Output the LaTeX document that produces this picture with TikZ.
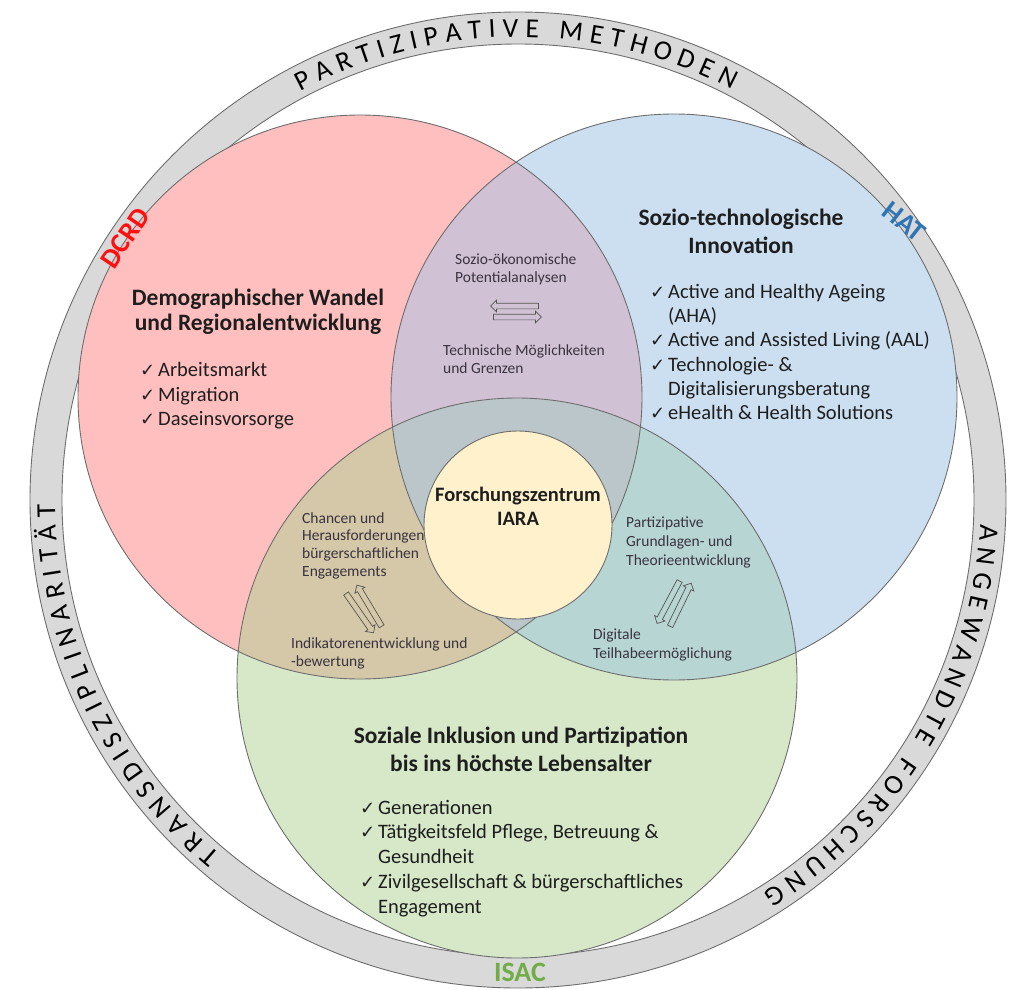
\documentclass[tikz,border=0pt]{standalone}
\usepackage{fontspec}
\setmainfont{Carlito}
\newfontfamily\chkfont{DejaVu Sans}
\usetikzlibrary{decorations.text,shapes.arrows}

\definecolor{ringgray}{HTML}{D9D9D9}
\definecolor{linegray}{HTML}{6E6E6E}
\definecolor{redfill}{HTML}{FFBFBF}
\definecolor{bluefill}{HTML}{CCDFF1}
\definecolor{greenfill}{HTML}{D6E8C8}
\definecolor{rbfill}{HTML}{D1C1D4}
\definecolor{rgfill}{HTML}{D4C8A8}
\definecolor{bgfill}{HTML}{B7D5D3}
\definecolor{rbgfill}{HTML}{BAC6C9}
\definecolor{centerfill}{HTML}{FFF1CC}
\definecolor{dcrdred}{HTML}{FF1010}
\definecolor{hatblue}{HTML}{2E75B6}
\definecolor{isacgreen}{HTML}{70AD47}
\definecolor{textblack}{HTML}{1E1E1E}
\definecolor{lenstext}{HTML}{3A3340}
\definecolor{arrowgray}{HTML}{555555}

\newcommand{\chk}{\makebox[18pt][l]{\chkfont\fontsize{18}{20}\selectfont ✓}}
\newcommand{\ringsize}{\fontsize{27.5}{30}\selectfont}

\begin{document}
\begin{tikzpicture}[x=1pt, y=-1pt,
  every node/.style={inner sep=0pt},
  edge line/.style={draw=linegray, line width=0.9pt},
  title/.style={anchor=base, font=\fontsize{23.5}{28}\selectfont\bfseries, text=textblack},
  item/.style={anchor=base west, font=\fontsize{20.5}{24}\selectfont, text=textblack},
  lens/.style={anchor=base west, font=\fontsize{15.5}{18}\selectfont, text=lenstext},
  swap arrow/.style={single arrow, draw=arrowgray, line width=0.7pt, text height=5pt, text depth=0pt, minimum height=48pt, single arrow head extend=3pt},
  ring label/.style={font=\fontsize{28}{30}\selectfont\bfseries},
  ring text/.style={decorate, decoration={text along path, text align={fit to path}, text={#1}}}
]
\useasboundingbox (0,0) rectangle (1010,990);

\coordinate (ring) at (518,500);
\coordinate (red) at (360,397);
\coordinate (blue) at (674,397);
\coordinate (green) at (517,678);
\coordinate (core) at (518,525);

\fill[ringgray, even odd rule] (ring) circle[radius=488pt] (ring) circle[radius=456pt];
\draw[edge line] (ring) circle[radius=488pt];
\draw[edge line] (ring) circle[radius=456pt];

\path[ring text={|\ringsize|PARTIZIPATIVE METHODEN}] (ring) ++(118:463pt) arc[start angle=118, end angle=62.5, radius=463pt];
\path[ring text={|\ringsize|TRANSDISZIPLINARITÄT}] (ring) ++(230:463pt) arc[start angle=230, end angle=180.5, radius=463pt];
\path[ring text={|\ringsize|ANGEWANDTE FORSCHUNG}] (ring) ++(-3:463pt) arc[start angle=-3, end angle=-58, radius=463pt];

\fill[redfill] (red) circle[radius=282pt];
\fill[bluefill] (blue) circle[radius=283pt];
\fill[greenfill] (green) circle[radius=280pt];
\begin{scope}
\clip (red) circle[radius=282pt];
\fill[rbfill] (blue) circle[radius=283pt];
\fill[rgfill] (green) circle[radius=280pt];
\end{scope}
\begin{scope}
\clip (blue) circle[radius=283pt];
\fill[bgfill] (green) circle[radius=280pt];
\end{scope}
\begin{scope}
\clip (red) circle[radius=282pt];
\clip (blue) circle[radius=283pt];
\fill[rbgfill] (green) circle[radius=280pt];
\end{scope}
\draw[edge line] (red) circle[radius=282pt];
\draw[edge line] (blue) circle[radius=283pt];
\draw[edge line] (green) circle[radius=280pt];
\draw[edge line, fill=centerfill] (core) circle[radius=94pt];

\node[ring label, text=dcrdred, rotate=56] (dcrd) at (125,238) {DCRD};
\node[ring label, text=hatblue, rotate=-38] (hat) at (904,222) {HAT};
\node[ring label, text=isacgreen] (isac) at (520,972) {ISAC};

\node[title] (redtitleA) at (258,305) {Demographischer Wandel};
\node[title] (redtitleB) at (258,330) {und Regionalentwicklung};
\node[item] (redA) at (140,376) {\chk Arbeitsmarkt};
\node[item] (redB) at (140,401) {\chk Migration};
\node[item] (redC) at (140,425) {\chk Daseinsvorsorge};

\node[title] (bluetitleA) at (741,225) {Sozio-technologische};
\node[title] (bluetitleB) at (741,253) {Innovation};
\node[item] (blueA) at (650,298) {\chk Active and Healthy Ageing};
\node[item] (blueB) at (668,322) {(AHA)};
\node[item] (blueC) at (650,346) {\chk Active and Assisted Living (AAL)};
\node[item] (blueD) at (650,371) {\chk Technologie- \&};
\node[item] (blueE) at (668,395) {Digitalisierungsberatung};
\node[item] (blueF) at (650,419) {\chk eHealth \& Health Solutions};

\node[title] (greentitleA) at (521,743) {Soziale Inklusion und Partizipation};
\node[title] (greentitleB) at (521,771) {bis ins höchste Lebensalter};
\node[item] (greenA) at (360,814) {\chk Generationen};
\node[item] (greenB) at (360,838) {\chk Tätigkeitsfeld Pflege, Betreuung \&};
\node[item] (greenC) at (378,863) {Gesundheit};
\node[item] (greenD) at (360,888) {\chk Zivilgesellschaft \& bürgerschaftliches};
\node[item] (greenE) at (378,913) {Engagement};

\node[title, font=\fontsize{20.5}{24}\selectfont\bfseries] (coreA) at (518,501) {Forschungszentrum};
\node[title, font=\fontsize{20.5}{24}\selectfont\bfseries] (coreB) at (518,525) {IARA};

\node[lens] (rbA) at (455,264) {Sozio-ökonomische};
\node[lens] (rbB) at (455,282) {Potentialanalysen};
\node[swap arrow, rotate=180] (rbleft) at (516,306) {};
\node[swap arrow] (rbright) at (516,317) {};
\node[lens] (rbC) at (443,355) {Technische Möglichkeiten};
\node[lens] (rbD) at (443,373) {und Grenzen};

\node[lens] (rgA) at (302,523) {Chancen und};
\node[lens] (rgB) at (302,540) {Herausforderungen};
\node[lens] (rgC) at (302,558) {bürgerschaftlichen};
\node[lens] (rgD) at (302,576) {Engagements};
\node[swap arrow, rotate=-55] (rgdown) at (359,612) {};
\node[swap arrow, rotate=121] (rgup) at (370,607) {};
\node[lens] (rgE) at (291,648) {Indikatorenentwicklung und};
\node[lens] (rgF) at (291,666) {-bewertung};

\node[lens] (bgA) at (626,527) {Partizipative};
\node[lens] (bgB) at (626,546) {Grundlagen- und};
\node[lens] (bgC) at (626,565) {Theorieentwicklung};
\node[swap arrow, rotate=242] (bgdown) at (669,601) {};
\node[swap arrow, rotate=64] (bgup) at (680,606) {};
\node[lens] (bgD) at (593,639) {Digitale};
\node[lens] (bgE) at (593,658) {Teilhabeermöglichung};

\end{tikzpicture}
\end{document}
